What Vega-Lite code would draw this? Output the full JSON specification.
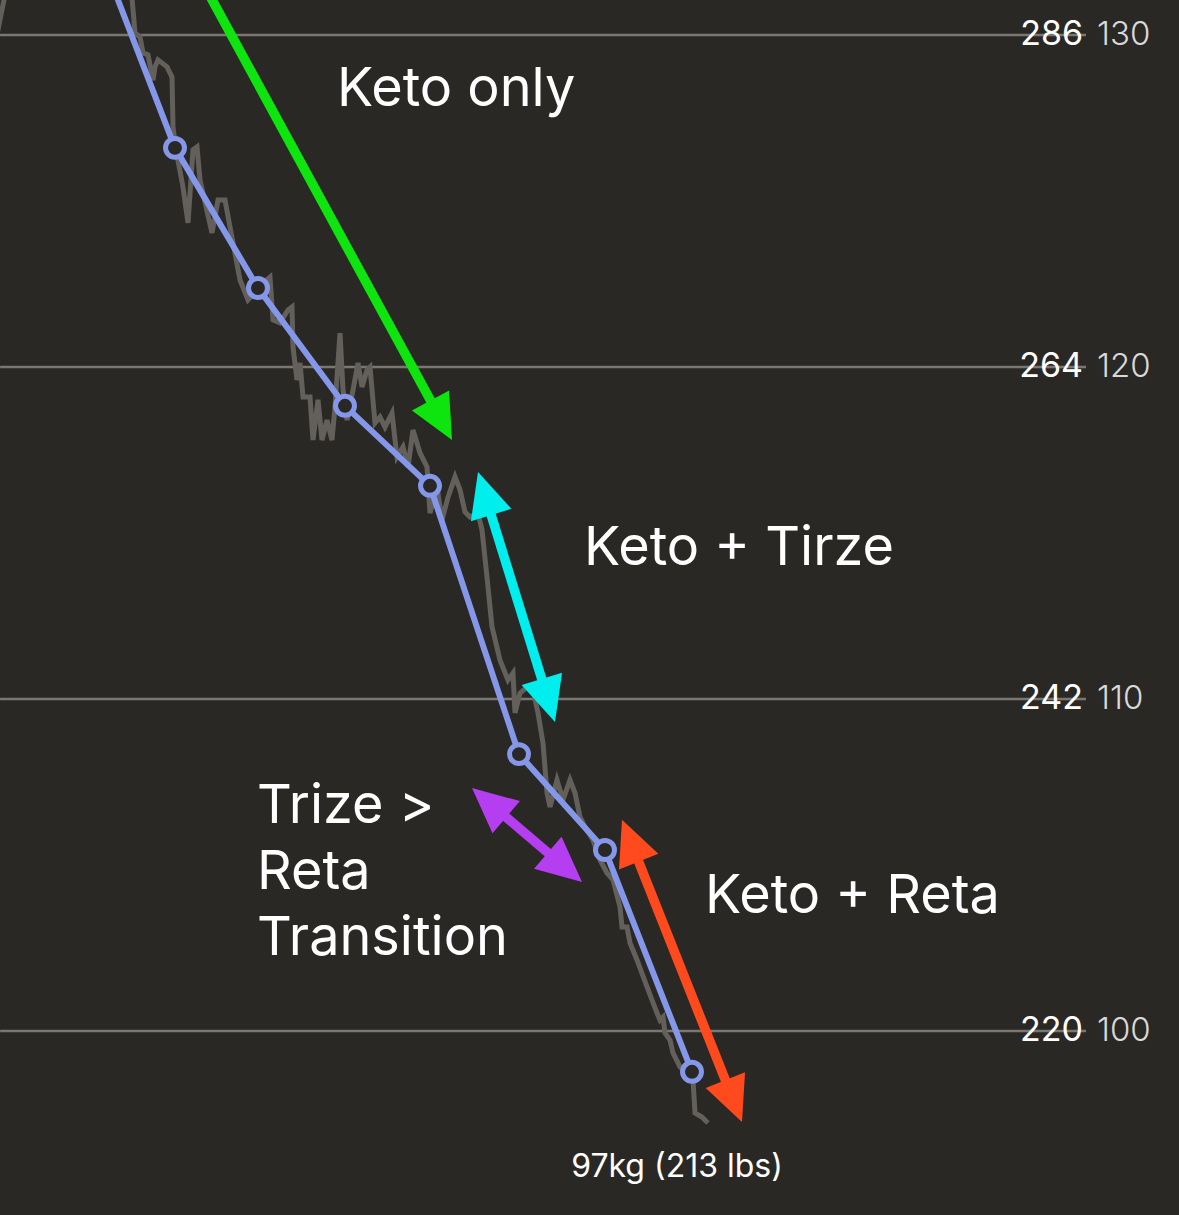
{
  "$schema": "https://vega.github.io/schema/vega-lite/v6.json",
  "width": 1179,
  "height": 1215,
  "padding": 0,
  "autosize": {"type": "none"},
  "background": "#2a2825",
  "config": {"view": {"stroke": null}, "text": {"font": "Inter"}},
  "datasets": {
    "levels": [
      {"kg": 130, "lbs": "286", "kgLabel": "130"},
      {"kg": 120, "lbs": "264", "kgLabel": "120"},
      {"kg": 110, "lbs": "242", "kgLabel": "110"},
      {"kg": 100, "lbs": "220", "kgLabel": "100"}
    ],
    "daily": [
      {"t": -1.0, "kg": 128.95}, {"t": 0.8, "kg": 131.66}, {"t": 12.5, "kg": 131.66}, {"t": 13.2, "kg": 131.11},
      {"t": 13.5, "kg": 130.06}, {"t": 14.0, "kg": 129.94}, {"t": 14.3, "kg": 129.46}, {"t": 14.8, "kg": 129.40},
      {"t": 15.3, "kg": 128.64}, {"t": 15.5, "kg": 129.04}, {"t": 15.8, "kg": 129.25}, {"t": 16.7, "kg": 129.04},
      {"t": 17.2, "kg": 128.73}, {"t": 17.3, "kg": 127.23}, {"t": 17.6, "kg": 126.54}, {"t": 18.3, "kg": 125.42},
      {"t": 18.8, "kg": 124.34}, {"t": 19.3, "kg": 126.54}, {"t": 19.7, "kg": 126.63}, {"t": 20.0, "kg": 125.63},
      {"t": 21.2, "kg": 124.04}, {"t": 21.8, "kg": 125.03}, {"t": 22.5, "kg": 125.03}, {"t": 23.0, "kg": 124.22},
      {"t": 24.0, "kg": 122.62}, {"t": 24.8, "kg": 122.02}, {"t": 25.7, "kg": 122.32}, {"t": 26.3, "kg": 122.53},
      {"t": 27.0, "kg": 122.71}, {"t": 27.3, "kg": 121.42}, {"t": 28.0, "kg": 121.33}, {"t": 28.8, "kg": 121.72},
      {"t": 29.2, "kg": 121.81}, {"t": 29.3, "kg": 120.60}, {"t": 29.7, "kg": 119.61}, {"t": 30.0, "kg": 120.12},
      {"t": 30.3, "kg": 119.10}, {"t": 31.0, "kg": 119.10}, {"t": 31.3, "kg": 117.80}, {"t": 31.8, "kg": 119.01},
      {"t": 32.2, "kg": 117.80}, {"t": 32.7, "kg": 118.40}, {"t": 33.2, "kg": 117.80}, {"t": 33.5, "kg": 118.80},
      {"t": 34.0, "kg": 121.02}, {"t": 34.3, "kg": 119.31}, {"t": 34.7, "kg": 118.40}, {"t": 35.3, "kg": 119.31},
      {"t": 35.8, "kg": 120.12}, {"t": 36.2, "kg": 119.40}, {"t": 36.7, "kg": 119.91}, {"t": 37.0, "kg": 120.00},
      {"t": 37.5, "kg": 118.31}, {"t": 38.0, "kg": 118.49}, {"t": 38.5, "kg": 118.19}, {"t": 39.2, "kg": 118.61},
      {"t": 39.7, "kg": 117.29}, {"t": 40.3, "kg": 117.59}, {"t": 40.8, "kg": 116.99}, {"t": 41.3, "kg": 118.10},
      {"t": 42.0, "kg": 117.41}, {"t": 42.7, "kg": 116.99}, {"t": 43.0, "kg": 115.60}, {"t": 43.7, "kg": 116.39},
      {"t": 44.2, "kg": 115.39}, {"t": 44.8, "kg": 116.08}, {"t": 45.5, "kg": 116.69}, {"t": 46.0, "kg": 116.30},
      {"t": 46.5, "kg": 115.63}, {"t": 47.0, "kg": 115.48}, {"t": 47.8, "kg": 115.60}, {"t": 48.2, "kg": 115.09},
      {"t": 48.7, "kg": 113.67}, {"t": 49.2, "kg": 112.17}, {"t": 50.0, "kg": 111.17}, {"t": 50.8, "kg": 110.57},
      {"t": 51.3, "kg": 110.78}, {"t": 51.5, "kg": 109.58}, {"t": 52.0, "kg": 110.18}, {"t": 52.7, "kg": 110.36},
      {"t": 53.3, "kg": 110.27}, {"t": 53.8, "kg": 109.58}, {"t": 54.3, "kg": 108.67}, {"t": 54.7, "kg": 107.17},
      {"t": 55.0, "kg": 106.75}, {"t": 55.7, "kg": 107.56}, {"t": 56.3, "kg": 106.96}, {"t": 57.0, "kg": 107.56},
      {"t": 57.5, "kg": 107.17}, {"t": 58.0, "kg": 106.45}, {"t": 58.5, "kg": 106.14}, {"t": 59.3, "kg": 105.75},
      {"t": 60.0, "kg": 105.15}, {"t": 60.7, "kg": 104.76}, {"t": 61.3, "kg": 104.55}, {"t": 62.0, "kg": 103.74},
      {"t": 62.2, "kg": 103.13}, {"t": 62.7, "kg": 103.13}, {"t": 63.0, "kg": 102.65}, {"t": 63.7, "kg": 102.14},
      {"t": 64.7, "kg": 101.33}, {"t": 65.7, "kg": 100.54}, {"t": 66.0, "kg": 100.33}, {"t": 66.3, "kg": 100.42},
      {"t": 66.5, "kg": 99.94}, {"t": 67.0, "kg": 99.73}, {"t": 67.3, "kg": 99.34}, {"t": 68.0, "kg": 98.92},
      {"t": 68.7, "kg": 98.74}, {"t": 69.3, "kg": 98.52}, {"t": 69.5, "kg": 97.53}, {"t": 70.2, "kg": 97.41},
      {"t": 70.8, "kg": 97.23}
    ],
    "trend": [
      {"t": 10.0, "kg": 132.46},
      {"t": 17.5, "kg": 126.60},
      {"t": 25.8, "kg": 122.38},
      {"t": 34.5, "kg": 118.83},
      {"t": 43.0, "kg": 116.42},
      {"t": 51.9, "kg": 108.34},
      {"t": 60.5, "kg": 105.45},
      {"t": 69.2, "kg": 98.77}
    ],
    "arrows": [
      {"arrow": "Keto only", "part": "shaft", "t": 20.5, "kg": 131.45},
      {"arrow": "Keto only", "part": "shaft", "t": 43.78, "kg": 118.59},
      {"arrow": "Keto only", "part": "tipB", "t": 45.2, "kg": 117.80},
      {"arrow": "Keto + Tirze", "part": "tipA", "t": 47.8, "kg": 116.84},
      {"arrow": "Keto + Tirze", "part": "shaft", "t": 48.68, "kg": 115.97},
      {"arrow": "Keto + Tirze", "part": "shaft", "t": 54.62, "kg": 110.17},
      {"arrow": "Keto + Tirze", "part": "tipB", "t": 55.5, "kg": 109.31},
      {"arrow": "Transition", "part": "tipA", "t": 47.2, "kg": 107.32},
      {"arrow": "Transition", "part": "shaft", "t": 49.48, "kg": 106.73},
      {"arrow": "Transition", "part": "shaft", "t": 55.92, "kg": 105.08},
      {"arrow": "Transition", "part": "tipB", "t": 58.2, "kg": 104.49},
      {"arrow": "Keto + Reta", "part": "tipA", "t": 62.2, "kg": 106.36},
      {"arrow": "Keto + Reta", "part": "shaft", "t": 63.31, "kg": 105.52},
      {"arrow": "Keto + Reta", "part": "shaft", "t": 73.09, "kg": 98.10},
      {"arrow": "Keto + Reta", "part": "tipB", "t": 74.2, "kg": 97.26}
    ],
    "notes": [
      {"label": "Keto only", "t": 33.7, "kg": 127.86, "size": "big"},
      {"label": "Keto + Tirze", "t": 58.4, "kg": 114.04, "size": "big"},
      {"label": "Trize >\nReta\nTransition", "t": 25.7, "kg": 106.27, "size": "big"},
      {"label": "Keto + Reta", "t": 70.5, "kg": 103.55, "size": "big"},
      {"label": "97kg (213 lbs)", "t": 67.7, "kg": 95.60, "size": "small"}
    ]
  },
  "layer": [
    {
      "data": {"name": "levels"},
      "mark": {"type": "rule", "color": "#7a7773", "strokeWidth": 2.5},
      "encoding": {
        "x": {"datum": 0.01, "type": "quantitative", "scale": {"domain": [0, 117.9], "nice": false, "zero": false}, "axis": null},
        "x2": {"datum": 108.6},
        "y": {"field": "kg", "type": "quantitative", "scale": {"domain": [94.458, 131.054], "nice": false, "zero": false}, "axis": null}
      }
    },
    {
      "data": {"name": "daily"},
      "mark": {"type": "line", "color": "#63605c", "strokeWidth": 5, "clip": true},
      "encoding": {
        "x": {"field": "t", "type": "quantitative"},
        "y": {"field": "kg", "type": "quantitative"}
      }
    },
    {
      "data": {"name": "trend"},
      "mark": {"type": "line", "color": "#8497e8", "strokeWidth": 6, "clip": true},
      "encoding": {
        "x": {"field": "t", "type": "quantitative"},
        "y": {"field": "kg", "type": "quantitative"}
      }
    },
    {
      "data": {"name": "trend"},
      "mark": {"type": "point", "shape": "circle", "filled": true, "fill": "#2a2825", "stroke": "#8497e8", "strokeWidth": 5, "size": 360, "opacity": 1, "clip": true},
      "encoding": {
        "x": {"field": "t", "type": "quantitative"},
        "y": {"field": "kg", "type": "quantitative"}
      }
    },
    {
      "data": {"name": "arrows"},
      "transform": [{"filter": "datum.part == 'shaft'"}],
      "mark": {"type": "line", "strokeWidth": 9.5, "clip": true},
      "encoding": {
        "x": {"field": "t", "type": "quantitative"},
        "y": {"field": "kg", "type": "quantitative"},
        "color": {"field": "arrow", "type": "nominal", "scale": {"domain": ["Keto only", "Keto + Tirze", "Transition", "Keto + Reta"], "range": ["#0ee40e", "#00eeee", "#b43ef0", "#ff4a1e"]}, "legend": null},
        "detail": {"field": "arrow"}
      }
    },
    {
      "data": {"name": "arrows"},
      "transform": [{"filter": "datum.part != 'shaft'"}],
      "layer": [
        {
          "transform": [{"filter": "datum.arrow == 'Keto only' && datum.part == 'tipB'"}],
          "mark": {"type": "point", "shape": "M0,0L-0.47,-1L0.47,-1Z", "size": 8100, "filled": true, "opacity": 1, "angle": 331.5, "fill": "#0ee40e"}
        },
        {
          "transform": [{"filter": "datum.arrow == 'Keto + Tirze' && datum.part == 'tipA'"}],
          "mark": {"type": "point", "shape": "M0,0L-0.47,-1L0.47,-1Z", "size": 8100, "filled": true, "opacity": 1, "angle": 163, "fill": "#00eeee"}
        },
        {
          "transform": [{"filter": "datum.arrow == 'Keto + Tirze' && datum.part == 'tipB'"}],
          "mark": {"type": "point", "shape": "M0,0L-0.47,-1L0.47,-1Z", "size": 8100, "filled": true, "opacity": 1, "angle": 343, "fill": "#00eeee"}
        },
        {
          "transform": [{"filter": "datum.arrow == 'Transition' && datum.part == 'tipA'"}],
          "mark": {"type": "point", "shape": "M0,0L-0.47,-1L0.47,-1Z", "size": 8100, "filled": true, "opacity": 1, "angle": 130.5, "fill": "#b43ef0"}
        },
        {
          "transform": [{"filter": "datum.arrow == 'Transition' && datum.part == 'tipB'"}],
          "mark": {"type": "point", "shape": "M0,0L-0.47,-1L0.47,-1Z", "size": 8100, "filled": true, "opacity": 1, "angle": 310.5, "fill": "#b43ef0"}
        },
        {
          "transform": [{"filter": "datum.arrow == 'Keto + Reta' && datum.part == 'tipA'"}],
          "mark": {"type": "point", "shape": "M0,0L-0.47,-1L0.47,-1Z", "size": 8100, "filled": true, "opacity": 1, "angle": 158.3, "fill": "#ff4a1e"}
        },
        {
          "transform": [{"filter": "datum.arrow == 'Keto + Reta' && datum.part == 'tipB'"}],
          "mark": {"type": "point", "shape": "M0,0L-0.47,-1L0.47,-1Z", "size": 8100, "filled": true, "opacity": 1, "angle": 338.3, "fill": "#ff4a1e"}
        }
      ],
      "encoding": {
        "x": {"field": "t", "type": "quantitative"},
        "y": {"field": "kg", "type": "quantitative"}
      }
    },
    {
      "data": {"name": "notes"},
      "transform": [{"filter": "datum.size == 'big'"}],
      "mark": {"type": "text", "align": "left", "baseline": "alphabetic", "fontSize": 54, "lineHeight": 66, "lineBreak": "\n", "color": "#ffffff"},
      "encoding": {
        "x": {"field": "t", "type": "quantitative"},
        "y": {"field": "kg", "type": "quantitative"},
        "text": {"field": "label"}
      }
    },
    {
      "data": {"name": "notes"},
      "transform": [{"filter": "datum.size == 'small'"}],
      "mark": {"type": "text", "align": "center", "baseline": "alphabetic", "fontSize": 32, "color": "#ffffff"},
      "encoding": {
        "x": {"field": "t", "type": "quantitative"},
        "y": {"field": "kg", "type": "quantitative"},
        "text": {"field": "label"}
      }
    },
    {
      "data": {"name": "levels"},
      "mark": {"type": "text", "align": "right", "baseline": "middle", "fontSize": 34, "color": "#ffffff"},
      "encoding": {
        "x": {"datum": 108.3, "type": "quantitative"},
        "y": {"field": "kg", "type": "quantitative"},
        "text": {"field": "lbs"}
      }
    },
    {
      "data": {"name": "levels"},
      "mark": {"type": "text", "align": "left", "baseline": "middle", "fontSize": 33, "fontWeight": 300, "color": "#d9d9d9"},
      "encoding": {
        "x": {"datum": 109.7, "type": "quantitative"},
        "y": {"field": "kg", "type": "quantitative"},
        "text": {"field": "kgLabel"}
      }
    }
  ]
}
